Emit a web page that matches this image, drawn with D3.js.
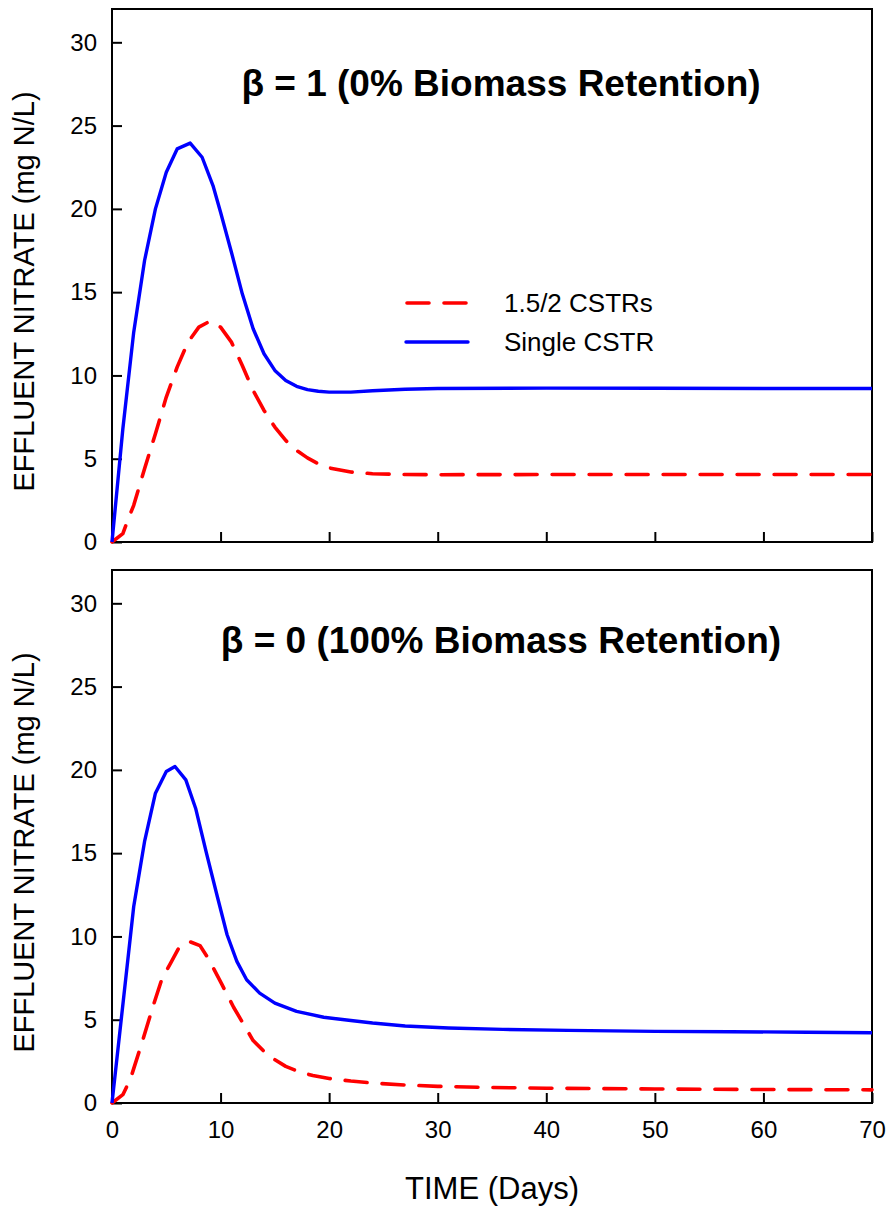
<!DOCTYPE html>
<html lang="en">
<head>
<meta charset="utf-8">
<title>Effluent nitrate vs time</title>
<script src="https://cdn.jsdelivr.net/npm/d3@7"></script>
<style>
    body { margin: 0; background: #fff; }
    text { font-family: "Liberation Sans", Arial, Helvetica, sans-serif; fill: #000; }
    .axis text { font-size: 24px; }
    .axis line { stroke: #000; stroke-width: 2px; }
    .frame { fill: none; stroke: #000; stroke-width: 2px; }
</style>
</head>
<body>
<script>
// beta = 1 panel (0% biomass retention)
var daysTopSingle = [0, 1, 2, 3, 4, 5, 6, 7.2, 8.3, 9.3, 10, 11, 12, 13, 14, 15, 16, 17, 18, 19, 20, 22, 24, 27, 30, 40, 50, 60, 70];
var no3TopSingle  = [0, 6.8, 12.6, 16.9, 20.0, 22.2, 23.6, 23.95, 23.1, 21.4, 19.8, 17.4, 14.9, 12.8, 11.3, 10.3, 9.7, 9.35, 9.15, 9.05, 9.0, 9.0, 9.08, 9.17, 9.22, 9.24, 9.23, 9.22, 9.22];
var daysTopStaged = [0, 1, 1.5, 2, 3, 4, 5, 6, 7, 8, 9, 10, 11, 12, 13, 14, 15, 16, 17, 18, 19, 20, 22, 24, 27, 30, 40, 50, 60, 70];
var no3TopStaged  = [0, 0.5, 1.4, 2.2, 4.4, 6.5, 8.7, 10.5, 12.0, 12.9, 13.25, 12.9, 12.0, 10.6, 9.1, 7.9, 6.9, 6.1, 5.5, 5.05, 4.7, 4.45, 4.2, 4.1, 4.05, 4.04, 4.05, 4.05, 4.05, 4.05];

// beta = 0 panel (100% biomass retention)
var daysBotSingle = [0, 1, 2, 3, 4, 5, 5.8, 6.8, 7.7, 8.7, 9.7, 10.6, 11.5, 12.4, 13.6, 15, 17, 19.5, 22, 24, 27, 31, 36, 42, 50, 57, 64, 70];
var no3BotSingle  = [0, 5.9, 11.8, 15.7, 18.6, 19.9, 20.2, 19.4, 17.7, 15.0, 12.4, 10.1, 8.5, 7.4, 6.6, 6.0, 5.5, 5.15, 4.95, 4.8, 4.62, 4.5, 4.42, 4.36, 4.3, 4.28, 4.25, 4.22];
var daysBotStaged = [0, 1, 1.7, 2.8, 3.8, 4.6, 5.4, 6.1, 7.1, 8.1, 8.9, 10.1, 11.2, 12.1, 13, 14, 15, 16, 17.3, 18.5, 20, 22, 24, 27, 30, 35, 40, 50, 60, 70];
var no3BotStaged  = [0, 0.5, 1.45, 3.7, 5.85, 7.45, 8.4, 9.25, 9.7, 9.45, 8.65, 7.15, 5.75, 4.75, 3.75, 3.1, 2.6, 2.2, 1.86, 1.65, 1.47, 1.32, 1.2, 1.08, 1.0, 0.93, 0.89, 0.84, 0.81, 0.79];

var xTicks = [0, 10, 20, 30, 40, 50, 60, 70];
var yTicks = [0, 5, 10, 15, 20, 25, 30];
var panelTitles = ["\u03B2 = 1 (0% Biomass Retention)", "\u03B2 = 0 (100% Biomass Retention)"];
var legendLabels = ["1.5/2 CSTRs", "Single CSTR"];

var w = 891, h = 1209;
var left = 112, right = 872;
var panels = [
    { top: 9, bottom: 542, title: panelTitles[0], titleY: 96, labels: false, legend: true,
      single: [daysTopSingle, no3TopSingle], staged: [daysTopStaged, no3TopStaged] },
    { top: 570, bottom: 1103, title: panelTitles[1], titleY: 653, labels: true, legend: false,
      single: [daysBotSingle, no3BotSingle], staged: [daysBotStaged, no3BotStaged] }
];

var svg = d3.select("body").append("svg").attr("width", w).attr("height", h);

var xscale = d3.scaleLinear().domain([0, 70]).range([left, right]);

function zip(pair) {
    return pair[0].map(function (d, i) { return [d, pair[1][i]]; });
}

panels.forEach(function (p) {
    var yscale = d3.scaleLinear().domain([0, 32]).range([p.bottom, p.top]);
    var g = svg.append("g");

    var xaxis = d3.axisBottom(xscale).tickValues(xTicks).tickSize(-10).tickPadding(18);
    if (!p.labels) xaxis.tickFormat("");
    var yaxis = d3.axisLeft(yscale).tickValues(yTicks).tickSize(-10).tickPadding(15);

    g.append("g").attr("class", "x axis")
     .attr("transform", "translate(0," + p.bottom + ")")
     .call(xaxis)
     .call(function (a) { a.select(".domain").remove(); });
    g.append("g").attr("class", "y axis")
     .attr("transform", "translate(" + left + ",0)")
     .call(yaxis)
     .call(function (a) { a.select(".domain").remove(); });

    g.append("rect").attr("class", "frame")
     .attr("x", left).attr("y", p.top)
     .attr("width", right - left).attr("height", p.bottom - p.top);

    var line = d3.line()
        .x(function (d) { return xscale(d[0]); })
        .y(function (d) { return yscale(d[1]); });

    g.append("path").datum(zip(p.staged))
     .attr("d", line)
     .attr("fill", "none").attr("stroke", "#ff0000").attr("stroke-width", 3.6)
     .attr("stroke-dasharray", "22,15").attr("stroke-linecap", "round")
     .attr("stroke-linejoin", "round");

    g.append("path").datum(zip(p.single))
     .attr("d", line)
     .attr("fill", "none").attr("stroke", "#0000ff").attr("stroke-width", 3.4)
     .attr("stroke-linejoin", "round");

    g.append("text")
     .attr("x", 501).attr("y", p.titleY)
     .attr("text-anchor", "middle")
     .attr("font-size", "37px").attr("font-weight", "bold")
     .text(p.title);

    // y axis title
    g.append("text")
     .attr("transform", "translate(34," + ((p.top + p.bottom) / 2 + 16) + ") rotate(-90)")
     .attr("text-anchor", "middle")
     .attr("font-size", "29px")
     .text("EFFLUENT NITRATE (mg N/L)");

    if (p.legend) {
        var lg = g.append("g");
        lg.append("line").attr("x1", 407).attr("x2", 473).attr("y1", 303).attr("y2", 303)
          .attr("stroke", "#ff0000").attr("stroke-width", 3.6)
          .attr("stroke-dasharray", "22,15").attr("stroke-linecap", "round");
        lg.append("line").attr("x1", 406).attr("x2", 468).attr("y1", 342).attr("y2", 342)
          .attr("stroke", "#0000ff").attr("stroke-width", 3.4).attr("stroke-linecap", "round");
        lg.selectAll("text").data(legendLabels).enter().append("text")
          .attr("x", 504)
          .attr("y", function (d, i) { return i === 0 ? 312 : 351; })
          .attr("font-size", "26px")
          .text(function (d) { return d; });
    }
});

svg.append("text")
   .attr("x", (left + right) / 2).attr("y", 1199)
   .attr("text-anchor", "middle")
   .attr("font-size", "31px")
   .text("TIME (Days)");
</script>
</body>
</html>
